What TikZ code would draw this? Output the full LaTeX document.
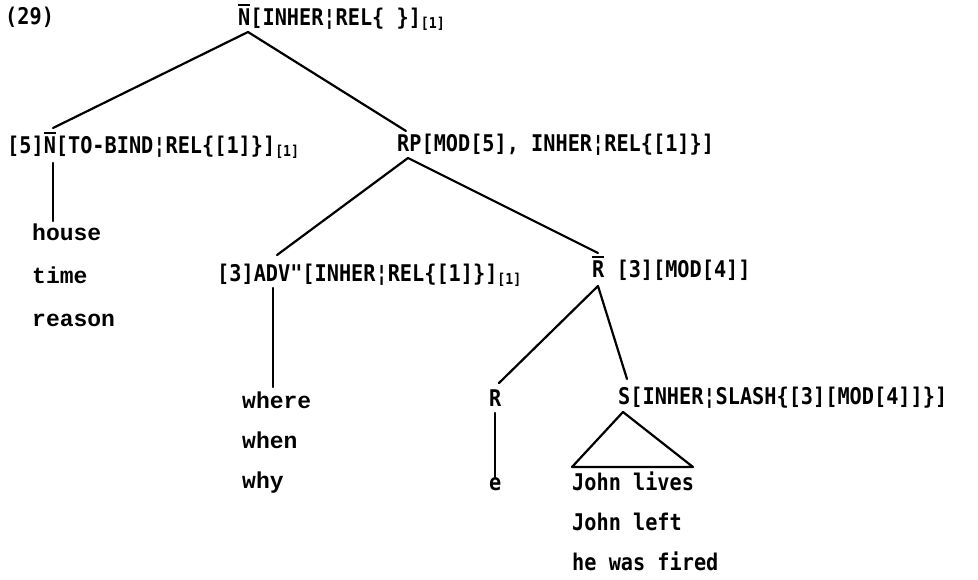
\documentclass[tikz,border=0pt]{standalone}
\usepackage{fontspec}
\newfontfamily\labfont{DejaVu Sans Mono}[FakeStretch=0.88]
\newfontfamily\wordfont{Liberation Mono}
\newcommand\myovl[1]{\setbox0\hbox{#1}\rlap{\raisebox{\dimexpr\ht0+2.5pt\relax}{\rule{\wd0}{1.5pt}}}\box0\relax}
\newcommand\mysub[1]{\raisebox{-3pt}{\fontsize{15}{15}\selectfont #1}}
\tikzset{
  lab/.style={anchor=base west, inner sep=0pt, font=\labfont\bfseries\fontsize{23}{23}\selectfont},
  word/.style={anchor=base west, inner sep=0pt, font=\wordfont\bfseries\fontsize{23}{23}\selectfont},
  branch/.style={line width=2.2pt, line cap=round, line join=round}
}
\begin{document}
\begin{tikzpicture}[x=1pt,y=-1pt]
\useasboundingbox[fill=white] (0,0) rectangle (978,579);
% labels
\node[lab] (n29) at (5,24) {(29)};
\node[lab] (root) at (238,25) {\myovl{N}[INHER¦REL\{ \}]\mysub{[1]}};
\node[lab] (nleft) at (7,153) {[5]\myovl{N}[TO-BIND¦REL\{[1]\}]\mysub{[1]}};
\node[lab] (rp) at (397,151) {RP[MOD[5], INHER¦REL\{[1]\}]};
\node[lab] (adv) at (217,281) {[3]ADV"[INHER¦REL\{[1]\}]\mysub{[1]}};
\node[lab] (rbar) at (592,277) {\myovl{R} [3][MOD[4]]};
\node[lab] (rnode) at (489,406) {R};
\node[lab] (snode) at (618,404) {S[INHER¦SLASH\{[3][MOD[4]]\}]};
\node[lab] (e) at (489,490) {e};
\node[word] (house) at (32,240) {house};
\node[word] (time) at (32,283) {time};
\node[word] (reason) at (32,326) {reason};
\node[word] (where) at (242,408) {where};
\node[word] (when) at (242,448) {when};
\node[word] (why) at (242,488) {why};
\node[lab] (jl) at (572,490) {John lives};
\node[lab] (jleft) at (572,530) {John left};
\node[lab] (fired) at (572,570) {he was fired};
% connector ends
\coordinate (rootbot) at (248,32);
\coordinate (nlefttop) at (53,128);
\coordinate (rptop) at (406,131);
\coordinate (nleftbot) at (53,163);
\coordinate (housetop) at (53,221);
\coordinate (rpbot) at (408,158);
\coordinate (advtop) at (277,255);
\coordinate (rbartop) at (598,253);
\coordinate (advbot) at (273,288);
\coordinate (wheretop) at (273,387);
\coordinate (rbarbot) at (598,286);
\coordinate (rtop) at (499,383);
\coordinate (stop) at (627,379);
\coordinate (rbot) at (495,413);
\coordinate (etop) at (495,477);
\coordinate (sbot) at (623,412);
\coordinate (triL) at (572,467);
\coordinate (triR) at (693,467);
% branches
\draw[branch] (nlefttop) -- (rootbot) -- (rptop);
\draw[branch] (nleftbot) -- (housetop);
\draw[branch] (advtop) -- (rpbot) -- (rbartop);
\draw[branch] (advbot) -- (wheretop);
\draw[branch] (rtop) -- (rbarbot) -- (stop);
\draw[branch] (rbot) -- (etop);
\draw[branch] (sbot) -- (triL) -- (triR) -- cycle;
\end{tikzpicture}
\end{document}
